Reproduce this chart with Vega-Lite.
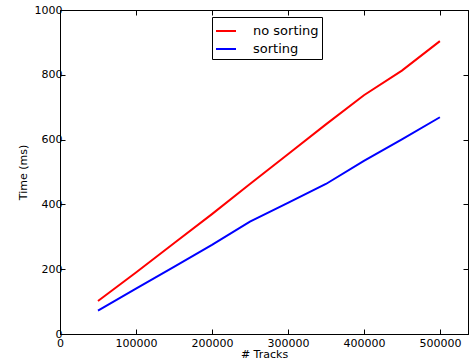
{
  "$schema": "https://vega.github.io/schema/vega-lite/v6.json",
  "width": 408,
  "height": 324,
  "autosize": {"type": "none"},
  "padding": {"left": 60, "top": 10, "right": 1, "bottom": 26},
  "background": "white",
  "config": {
    "font": "DejaVu Sans",
    "view": {"stroke": "black", "strokeWidth": 1},
    "axis": {
      "domainColor": "black",
      "tickColor": "black",
      "labelColor": "black",
      "titleColor": "black",
      "grid": false,
      "labelFont": "DejaVu Sans",
      "titleFont": "DejaVu Sans",
      "labelFontSize": 11,
      "titleFontSize": 11,
      "titleFontWeight": "normal",
      "tickSize": -5,
      "labelPadding": 8,
      "labelFlush": false,
      "labelOverlap": false
    }
  },
  "data": {
    "values": [
      {"tracks": 50000, "time": 102, "series": "no sorting"},
      {"tracks": 100000, "time": 190, "series": "no sorting"},
      {"tracks": 150000, "time": 280, "series": "no sorting"},
      {"tracks": 200000, "time": 370, "series": "no sorting"},
      {"tracks": 250000, "time": 463, "series": "no sorting"},
      {"tracks": 300000, "time": 555, "series": "no sorting"},
      {"tracks": 350000, "time": 647, "series": "no sorting"},
      {"tracks": 400000, "time": 737, "series": "no sorting"},
      {"tracks": 450000, "time": 813, "series": "no sorting"},
      {"tracks": 500000, "time": 904, "series": "no sorting"},
      {"tracks": 50000, "time": 72, "series": "sorting"},
      {"tracks": 100000, "time": 140, "series": "sorting"},
      {"tracks": 150000, "time": 207, "series": "sorting"},
      {"tracks": 200000, "time": 275, "series": "sorting"},
      {"tracks": 250000, "time": 347, "series": "sorting"},
      {"tracks": 300000, "time": 405, "series": "sorting"},
      {"tracks": 350000, "time": 463, "series": "sorting"},
      {"tracks": 400000, "time": 534, "series": "sorting"},
      {"tracks": 450000, "time": 601, "series": "sorting"},
      {"tracks": 500000, "time": 669, "series": "sorting"}
    ]
  },
  "layer": [
    {
      "mark": {"type": "line", "strokeWidth": 2, "clip": true},
      "encoding": {
        "x": {
          "field": "tracks", "type": "quantitative",
          "scale": {"domain": [0, 537000], "nice": false, "zero": false},
          "axis": {"orient": "bottom", "title": "# Tracks", "values": [0, 100000, 200000, 300000, 400000, 500000], "format": "d", "titlePadding": 0}
        },
        "y": {
          "field": "time", "type": "quantitative",
          "scale": {"domain": [0, 1000], "nice": false},
          "axis": {"orient": "left", "title": "Time (ms)", "values": [0, 200, 400, 600, 800, 1000], "format": "d", "titlePadding": 6, "labelPadding": 3}
        },
        "color": {
          "field": "series", "type": "nominal",
          "scale": {"domain": ["no sorting", "sorting"], "range": ["#ff0000", "#0000ff"]},
          "legend": {
            "title": null,
            "orient": "none",
            "legendX": 152,
            "legendY": 7,
            "strokeColor": "black",
            "fillColor": "white",
            "padding": 3,
            "symbolType": "stroke",
            "symbolSize": 400,
            "symbolStrokeWidth": 2,
            "labelFontSize": 13,
            "labelFont": "DejaVu Sans",
            "labelColor": "black",
            "labelOffset": 16,
            "rowPadding": 0
          }
        }
      }
    },
    {
      "mark": {"type": "line", "strokeOpacity": 0},
      "encoding": {
        "x": {
          "field": "tracks", "type": "quantitative",
          "axis": {"orient": "top", "title": null, "labels": false, "values": [0, 100000, 200000, 300000, 400000, 500000]}
        },
        "y": {
          "field": "time", "type": "quantitative",
          "axis": {"orient": "right", "title": null, "labels": false, "values": [0, 200, 400, 600, 800, 1000]}
        },
        "detail": {"field": "series"}
      }
    }
  ],
  "resolve": {"axis": {"x": "independent", "y": "independent"}}
}
